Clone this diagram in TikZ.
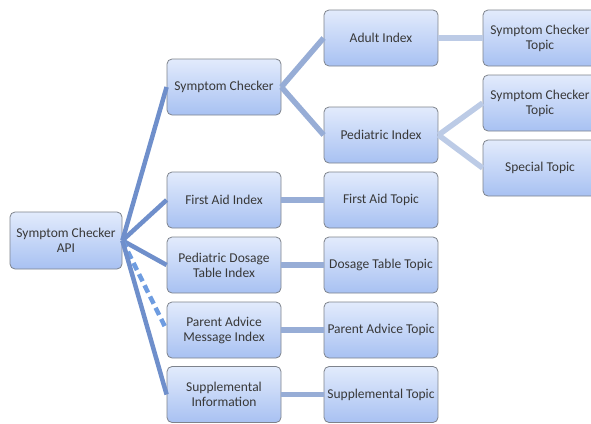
\documentclass[tikz,border=0pt]{standalone}
\usepackage{fontspec}
\setmainfont{Carlito}
\usetikzlibrary{positioning}
\definecolor{boxtop}{HTML}{E2EBFC}
\definecolor{boxbottom}{HTML}{A8C1F2}
\definecolor{boxline}{HTML}{7E838C}
\definecolor{rootlink}{HTML}{6F8FCB}
\definecolor{dashlink}{HTML}{6E9CE0}
\definecolor{midlink}{HTML}{97ADD6}
\definecolor{leaflink}{HTML}{BCCBE6}
\tikzset{%
	topic box/.style={
		rectangle,
		rounded corners=5pt,
		draw=boxline,
		line width=0.8pt,
		top color=boxtop,
		bottom color=boxbottom,
		minimum width=114pt,
		minimum height=56pt,
		align=center,
		text=black!78,
		font=\fontsize{13.5}{15}\selectfont
	},
	root link/.style={draw=rootlink, line width=4.5pt},
	mid link/.style={draw=midlink, line width=5.5pt},
	leaf link/.style={draw=leaflink, line width=5.5pt},
}
\begin{document}
\begin{tikzpicture}[x=1pt, y=-1pt, every node/.style={topic box}]
	\clip (0,0) rectangle (591,423);
	% root
	\node[minimum width=112pt, minimum height=57pt] (api) at (66,240.5) {Symptom Checker\\API};
	% first level
	\node (checker) at (224,87) {Symptom Checker};
	\node (firstaid) at (224,200) {First Aid Index};
	\node (dosage) at (224,265) {Pediatric Dosage\\Table Index};
	\node (advice) at (224,330) {Parent Advice\\Message Index};
	\node (supp) at (224,394.5) {Supplemental\\Information};
	% second level
	\node (adult) at (381,38) {Adult Index};
	\node (pediatric) at (381,135) {Pediatric Index};
	\node (firstaidtopic) at (381,200) {First Aid Topic};
	\node (dosagetopic) at (381,265) {Dosage Table Topic};
	\node (advicetopic) at (381,330) {Parent Advice Topic};
	\node (supptopic) at (381,394.5) {Supplemental Topic};
	% third level
	\node (adulttopic) at (540,38) {Symptom Checker\\Topic};
	\node (pedtopic) at (540,103) {Symptom Checker\\Topic};
	\node (special) at (540,168) {Special Topic};

	\draw[root link] (api.east) -- (checker.west);
	\draw[root link] (api.east) -- (firstaid.west);
	\draw[root link] (api.east) -- (dosage.west);
	\draw[root link, draw=dashlink, dash pattern=on 8pt off 4.5pt] (api.east) -- (advice.west);
	\draw[root link] (api.east) -- (supp.west);

	\draw[mid link] (checker.east) -- (adult.west);
	\draw[mid link] (checker.east) -- (pediatric.west);
	\draw[mid link] (firstaid) -- (firstaidtopic);
	\draw[mid link] (dosage) -- (dosagetopic);
	\draw[mid link] (advice) -- (advicetopic);
	\draw[mid link] (supp) -- (supptopic);

	\draw[leaf link] (adult) -- (adulttopic);
	\draw[leaf link] (pediatric.east) -- (pedtopic.west);
	\draw[leaf link] (pediatric.east) -- (special.west);
\end{tikzpicture}
\end{document}
